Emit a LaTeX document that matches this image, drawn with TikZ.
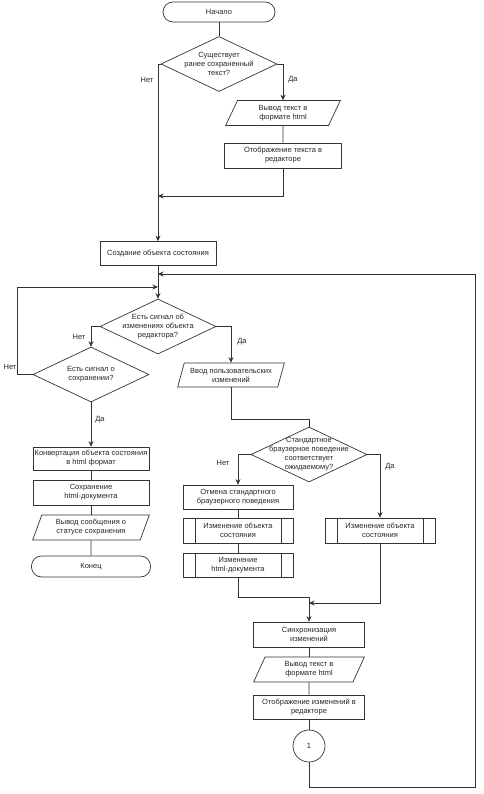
\documentclass[tikz,border=0pt]{standalone}
\usepackage{fontspec}
\setmainfont{Liberation Sans}
\usetikzlibrary{shapes.geometric}
\usetikzlibrary{arrows.meta}

\begin{document}
\begin{tikzpicture}[x=1pt, y=-1pt, >={Stealth[length=5.5pt,width=5pt]}, line width=.7pt,
  draw=black!80, text=black!85, font=\fontsize{7.5}{9}\selectfont,
  term/.style={draw, rectangle, rounded corners=10pt, minimum width=#1, minimum height=20pt, inner sep=0pt},
  proc/.style={draw, rectangle, align=center, minimum width=#1, minimum height=25pt, inner sep=0pt},
  sub/.style={proc=#1, path picture={
    \draw ([xshift=12pt]path picture bounding box.north west) -- ([xshift=12pt]path picture bounding box.south west)
          ([xshift=-12pt]path picture bounding box.north east) -- ([xshift=-12pt]path picture bounding box.south east);}},
  io/.style={draw, trapezium, trapezium left angle=68, trapezium right angle=112, trapezium stretches=true,
    align=center, minimum width=#1, minimum height=25pt, inner sep=0pt},
  decision/.style={draw, diamond, align=center, shape aspect=2, inner sep=-10pt, minimum width=116pt, minimum height=55pt},
  conn/.style={draw, circle, minimum size=32pt, inner sep=0pt}]

\useasboundingbox (0,0) rectangle (483,794);

\node[term=112pt] (start) at (219,12) {Начало};
\node[decision] (q1) at (219,64) {Существует\\ранее сохраненный\\текст?};
\node[io=115pt] (out1) at (283,113) {Вывод текст в\\формате html};
\node[proc=117pt] (show1) at (283,155.5) {Отображение текста в\\редакторе};
\node[proc=116pt, minimum height=24pt] (create) at (158,253.5) {Создание объекта состояния};
\node[decision] (q2) at (158,326.5) {Есть сигнал об\\изменениях объекта\\редактора?};
\node[decision] (q3) at (91,374.5) {Есть сигнал о\\сохранении?};
\node[proc=116pt, minimum height=23pt] (conv) at (91,458.5) {Конвертация объекта состояния\\в html формат};
\node[proc=116pt] (save) at (91,492.5) {Сохранение\\html-документа};
\node[io=117pt] (msg) at (91,527.5) {Вывод сообщения о\\статусе сохранения};
\node[term=119pt, minimum height=21pt] (stop) at (91,566.5) {Конец};
\node[io=107pt, minimum height=24pt] (input) at (231,375) {Ввод пользовательских\\изменений};
\node[decision] (q4) at (309,454.5) {Стандартное\\браузерное поведение\\соответствует\\ожидаемому?};
\node[proc=110pt, minimum height=24pt] (cancel) at (238,497) {Отмена стандартного\\браузерного поведения};
\node[sub=110pt] (sub1) at (238,530.5) {Изменение объекта\\состояния};
\node[sub=110pt, minimum height=24pt] (sub2) at (238,565) {Изменение\\html-документа};
\node[sub=110pt] (sub3) at (380,530.5) {Изменение объекта\\состояния};
\node[proc=111pt] (sync) at (309,634.5) {Синхронизация\\изменений};
\node[io=111pt] (out2) at (309,669.5) {Вывод текст в\\формате html};
\node[proc=111pt, minimum height=24pt] (show2) at (309,707) {Отображение изменений в\\редакторе};
\node[conn] (c1) at (309,746) {1};

\coordinate (j0) at (158,196);
\coordinate (j1) at (158,274);
\coordinate (j2) at (158,287);
\coordinate (j3) at (309,597);
\coordinate (j4) at (309,603);

\draw (start) -- (q1);
\draw[->] (q1.east) -| (out1.north);
\draw (out1) -- (show1);
\draw[->] (show1.south) |- (j0);
\draw[->] (q1.west) -| (create.north);
\draw[->] (create.south) -- (q2.north);
%%%%%%%%%%%%
\draw[->] (q2.west) -| (q3.north);
\draw[->] (q3.west) -- (17,374.5) |- (j2);
\draw[->] (q3.south) -- (conv.north);
\draw (conv) -- (save);
\draw (save) -- (msg);
\draw (msg) -- (stop);
%%%%%%%%%%%%
\draw[->] (q2.east) -| (input.north);
\draw (input.south) -- ++(0,32) -| (q4.north);
\draw[->] (q4.west) -| (cancel.north);
\draw[->] (q4.east) -| (sub3.north);
\draw (cancel) -- (sub1);
\draw (sub1) -- (sub2);
\draw (sub2.south) |- (j3);
\draw[->] (sub3.south) |- (j4);
\draw[->] (j3) -- (sync.north);
\draw (sync) -- (out2);
\draw (out2) -- (show2);
\draw (show2) -- (c1);
\draw[->] (c1.south) |- (475,787) |- (j1);

\node at (147,80) {Нет};
\node at (293,80) {Да};
\node at (79,337) {Нет};
\node at (10,366.5) {Нет};
\node at (100,420) {Да};
\node at (242,342) {Да};
\node at (223,463) {Нет};
\node at (390,467) {Да};
\end{tikzpicture}
\end{document}
